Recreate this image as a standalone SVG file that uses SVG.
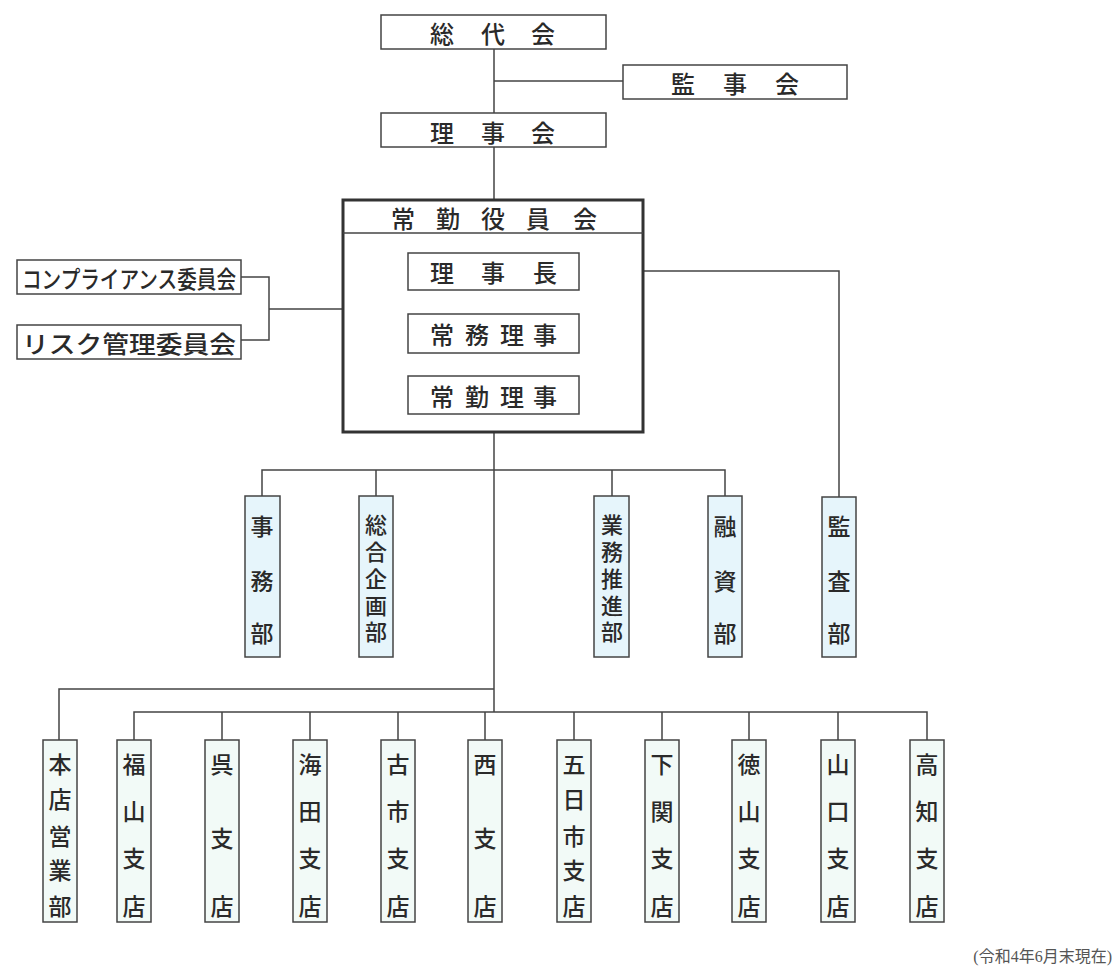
<svg xmlns="http://www.w3.org/2000/svg" width="1113" height="967" viewBox="0 0 1113 967">
<style>
.bx{fill:#fff;stroke:#444;stroke-width:1.5}
.big{fill:#fff;stroke:#333;stroke-width:3}
.dp{fill:#e6f5fb;stroke:#444;stroke-width:1.5}
.br{fill:#f2faf7;stroke:#444;stroke-width:1.5}
.ln{fill:none;stroke:#444;stroke-width:1.5}
text{font-family:"Noto Sans CJK JP","Noto Sans",sans-serif;fill:#2a2a2a;text-anchor:middle;dominant-baseline:central;font-weight:500}
.t{font-size:24px}
.v{font-size:23px}
.s{font-size:22px;writing-mode:vertical-rl;letter-spacing:4.75px;dominant-baseline:auto;text-anchor:start}
.note{font-family:"Liberation Serif","Noto Sans CJK JP",serif;font-size:16px;fill:#555;text-anchor:end;font-weight:400}
</style>
<rect width="1113" height="967" fill="#fff"/>
<g id="connectors">
<path class="ln" d="M494,49V200M494,81H623"/>
<path class="ln" d="M579,271H839V497"/>
<path class="ln" d="M241,277H269V340H241M269,309H343"/>
<path class="ln" d="M494,432V712"/>
<path class="ln" d="M262,496V470H725V496M376,470V496M612,470V496"/>
<path class="ln" d="M494,689H59V740"/>
<path class="ln" d="M134,740V712H927V740M222,712V740M310,712V740M398,712V740M485,712V740M574,712V740M662,712V740M749,712V740M838,712V740"/>
</g>
<g id="soudaikai"><rect class="bx" x="381" y="15" width="225" height="34"/>
<text class="t" x="442" y="32">総</text><text class="t" x="493" y="32">代</text><text class="t" x="543" y="32">会</text></g>
<g id="kansakai"><rect class="bx" x="623" y="65" width="224" height="34"/>
<text class="t" x="683" y="82">監</text><text class="t" x="735" y="82">事</text><text class="t" x="787" y="82">会</text></g>
<g id="rijikai"><rect class="bx" x="381" y="113" width="225" height="34"/>
<text class="t" x="442" y="131">理</text><text class="t" x="493" y="131">事</text><text class="t" x="543" y="131">会</text></g>
<g id="joukin-yakuinkai"><rect class="big" x="343" y="200" width="300" height="232"/>
<line class="ln" x1="343" y1="233" x2="643" y2="233"/>
<text class="t" x="403" y="217">常</text><text class="t" x="448" y="217">勤</text><text class="t" x="493" y="217">役</text><text class="t" x="538" y="217">員</text><text class="t" x="585" y="217">会</text></g>
<g id="rijichou"><rect class="bx" x="408" y="253" width="171" height="37"/>
<text class="t" x="442" y="271">理</text><text class="t" x="493" y="271">事</text><text class="t" x="545" y="271">長</text></g>
<g id="joumu-riji"><rect class="bx" x="408" y="314" width="171" height="39"/>
<text class="t" x="442" y="333">常</text><text class="t" x="477" y="333">務</text><text class="t" x="512" y="333">理</text><text class="t" x="545" y="333">事</text></g>
<g id="joukin-riji"><rect class="bx" x="408" y="376" width="171" height="38"/>
<text class="t" x="442" y="395">常</text><text class="t" x="477" y="395">勤</text><text class="t" x="512" y="395">理</text><text class="t" x="545" y="395">事</text></g>
<g id="compliance"><rect class="bx" x="17" y="260" width="224" height="34"/>
<text class="t" x="129" y="277" textLength="214" lengthAdjust="spacingAndGlyphs">コンプライアンス委員会</text></g>
<g id="risk"><rect class="bx" x="17" y="325" width="224" height="34"/>
<text class="t" x="129" y="342" textLength="214" lengthAdjust="spacingAndGlyphs">リスク管理委員会</text></g>
<g id="jimubu"><rect class="dp" x="245" y="496" width="35" height="161"/>
<text class="v" x="262" y="525">事</text><text class="v" x="262" y="580">務</text><text class="v" x="262" y="632">部</text></g>
<g id="sougou-kikakubu"><rect class="dp" x="359" y="496" width="34" height="161"/>
<text class="s" x="376" y="514">総合企画部</text></g>
<g id="gyoumu-suishinbu"><rect class="dp" x="594" y="496" width="35" height="161"/>
<text class="s" x="612" y="514">業務推進部</text></g>
<g id="yuushibu"><rect class="dp" x="708" y="496" width="34" height="161"/>
<text class="v" x="725" y="525">融</text><text class="v" x="725" y="580">資</text><text class="v" x="725" y="632">部</text></g>
<g id="kansabu"><rect class="dp" x="822" y="497" width="34" height="160"/>
<text class="v" x="839" y="525">監</text><text class="v" x="839" y="580">査</text><text class="v" x="839" y="632">部</text></g>
<g id="honten"><rect class="br" x="43" y="740" width="34" height="182"/>
<text class="v" x="60" y="763">本</text><text class="v" x="60" y="798">店</text><text class="v" x="60" y="835">営</text><text class="v" x="60" y="869">業</text><text class="v" x="60" y="905">部</text></g>
<g id="fukuyama"><rect class="br" x="117" y="740" width="34" height="182"/>
<text class="v" x="134" y="763">福</text><text class="v" x="134" y="810">山</text><text class="v" x="134" y="857">支</text><text class="v" x="134" y="905">店</text></g>
<g id="kure"><rect class="br" x="205" y="740" width="34" height="182"/>
<text class="v" x="222" y="763">呉</text><text class="v" x="222" y="837">支</text><text class="v" x="222" y="905">店</text></g>
<g id="kaita"><rect class="br" x="293" y="740" width="34" height="182"/>
<text class="v" x="310" y="763">海</text><text class="v" x="310" y="810">田</text><text class="v" x="310" y="857">支</text><text class="v" x="310" y="905">店</text></g>
<g id="furuichi"><rect class="br" x="381" y="740" width="34" height="182"/>
<text class="v" x="398" y="763">古</text><text class="v" x="398" y="810">市</text><text class="v" x="398" y="857">支</text><text class="v" x="398" y="905">店</text></g>
<g id="nishi"><rect class="br" x="468" y="740" width="34" height="182"/>
<text class="v" x="485" y="763">西</text><text class="v" x="485" y="837">支</text><text class="v" x="485" y="905">店</text></g>
<g id="itsukaichi"><rect class="br" x="557" y="740" width="34" height="182"/>
<text class="v" x="574" y="763">五</text><text class="v" x="574" y="798">日</text><text class="v" x="574" y="835">市</text><text class="v" x="574" y="869">支</text><text class="v" x="574" y="905">店</text></g>
<g id="shimonoseki"><rect class="br" x="645" y="740" width="34" height="182"/>
<text class="v" x="662" y="763">下</text><text class="v" x="662" y="810">関</text><text class="v" x="662" y="857">支</text><text class="v" x="662" y="905">店</text></g>
<g id="tokuyama"><rect class="br" x="732" y="740" width="34" height="182"/>
<text class="v" x="749" y="763">徳</text><text class="v" x="749" y="810">山</text><text class="v" x="749" y="857">支</text><text class="v" x="749" y="905">店</text></g>
<g id="yamaguchi"><rect class="br" x="821" y="740" width="34" height="182"/>
<text class="v" x="838" y="763">山</text><text class="v" x="838" y="810">口</text><text class="v" x="838" y="857">支</text><text class="v" x="838" y="905">店</text></g>
<g id="kouchi"><rect class="br" x="910" y="740" width="34" height="182"/>
<text class="v" x="927" y="763">高</text><text class="v" x="927" y="810">知</text><text class="v" x="927" y="857">支</text><text class="v" x="927" y="905">店</text></g>
<text class="note" x="1112" y="956">(令和4年6月末現在)</text>
</svg>
